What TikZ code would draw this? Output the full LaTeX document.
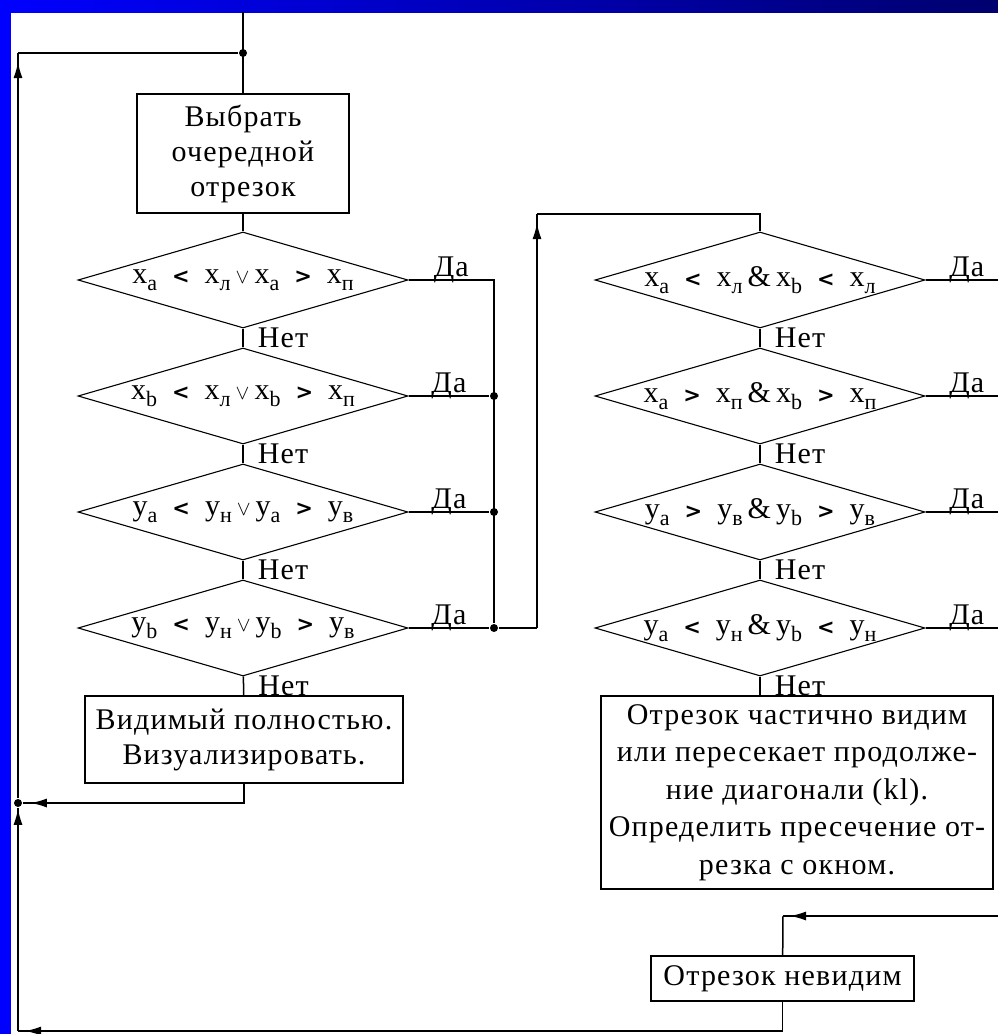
\documentclass[tikz,border=0pt]{standalone}
\usepackage{fontspec}
\setmainfont{Liberation Serif}[LetterSpace=4]
\newfontfamily\chevfont{DejaVu Sans}
\usetikzlibrary{arrows.meta,shapes.geometric}

\definecolor{slidenavy}{RGB}{0,0,110}

\newcommand{\ix}[2]{#1\raisebox{-7pt}{\fontsize{22}{22}\selectfont #2}}
\newcommand{\cl}{\enspace{\chevfont\bfseries\fontsize{21}{21}\selectfont <}\enspace}
\newcommand{\cg}{\enspace{\chevfont\bfseries\fontsize{21}{21}\selectfont >}\enspace}
\newcommand{\vel}{\,{\fontsize{22}{22}\selectfont$\vee$}\,}
\newcommand{\et}{\,\&\,}

\tikzset{
  arr/.style={postaction={draw,-{Latex[length=16pt,width=9pt]},shorten >=#1}},
  dot/.style={circle,fill=black,inner sep=0pt,minimum size=8pt},
  da/.style={anchor=base,yshift=4pt,inner sep=0pt},
  net/.style={anchor=west,xshift=14pt,inner sep=0pt}
}

\begin{document}
\begin{tikzpicture}[x=1pt,y=-1pt,line width=1.5pt,
    font=\fontsize{30}{35}\selectfont]
    % slide frame
    \useasboundingbox (0,0) rectangle (998,1034);
    \fill[white] (0,0) rectangle (998,1034);
    \fill[blue] (0,0) rectangle (11,1034);
    \shade[left color=blue,right color=slidenavy] (0,0) rectangle (998,12);

    \begin{scope}[every node/.style={draw,align=center,inner sep=0pt}]
      \node[minimum width=212pt,minimum height=119pt] (b1) at (243,153.5) {Выбрать\\очередной\\отрезок};
      \node[minimum width=318pt,minimum height=87pt] (b2) at (244,739.5) {Видимый полностью.\\Визуализировать.};
      \node[minimum width=392pt,minimum height=193pt,font=\fontsize{30}{37.5}\selectfont] (b3) at (797,792.5) {Отрезок частично видим\\или пересекает продолже-\\ние диагонали (kl).\\Определить пресечение от-\\резка с окном.};
      \node[minimum width=263pt,minimum height=45pt] (b4) at (782.5,978.5) {Отрезок невидим};
    \end{scope}

    \begin{scope}[every node/.style={diamond,draw,line width=1.1pt,inner sep=0pt,
        shape aspect=3.4,minimum width=330pt,minimum height=96pt}]
      \node (d1) at (243,280) {\ix{x}{a}\cl\ix{x}{л}\vel\ix{x}{a}\cg\ix{x}{п}};
      \node (d2) at (243,396) {\ix{x}{b}\cl\ix{x}{л}\vel\ix{x}{b}\cg\ix{x}{п}};
      \node (d3) at (243,512) {\ix{y}{a}\cl\ix{y}{н}\vel\ix{y}{a}\cg\ix{y}{в}};
      \node (d4) at (243,628) {\ix{y}{b}\cl\ix{y}{н}\vel\ix{y}{b}\cg\ix{y}{в}};
      \node (d5) at (760,280) {\ix{x}{a}\cl\ix{x}{л}\et\ix{x}{b}\cl\ix{x}{л}};
      \node (d6) at (760,396) {\ix{x}{a}\cg\ix{x}{п}\et\ix{x}{b}\cg\ix{x}{п}};
      \node (d7) at (760,512) {\ix{y}{a}\cg\ix{y}{в}\et\ix{y}{b}\cg\ix{y}{в}};
      \node (d8) at (760,628) {\ix{y}{a}\cl\ix{y}{н}\et\ix{y}{b}\cl\ix{y}{н}};
    \end{scope}

    % junctions and corners
    \node[dot] (j0) at (243,53) {};
    \node[dot] (j2) at (494,396) {};
    \node[dot] (j3) at (494,512) {};
    \node[dot] (j4) at (494,628) {};
    \node[dot] (j5) at (18,803) {};
    \coordinate (t0) at (243,12);
    \coordinate (c0) at (18,53);
    \coordinate (j1) at (494,280);
    \coordinate (c1) at (537,628);
    \coordinate (c2) at (537,214);
    \coordinate (c3) at (760,214);
    \coordinate (c5) at (18,1031);
    \coordinate (c6) at (783,916);
    \coordinate (e9) at (998,916);
    \foreach \n/\y in {5/280,6/396,7/512,8/628}
      \coordinate (e\n) at (998,\y);

    % left column
    \draw (t0) -- (b1);
    \draw (b1) -- (d1);
    \draw (d1) -- node[midway,net]{Нет} (d2);
    \draw (d2) -- node[midway,net]{Нет} (d3);
    \draw (d3) -- node[midway,net]{Нет} (d4);
    \draw (d4) -- node[midway,net]{Нет} (b2);
    \draw (d1.east) -- node[da]{Да} (j1) -- (j4);
    \draw (d2.east) -- node[da]{Да} (j2);
    \draw (d3.east) -- node[da]{Да} (j3);
    \draw (d4.east) -- node[da]{Да} (j4);

    % to the right column
    \draw (j4) -- (c1);
    \draw[arr=9pt] (c1) -- (c2);
    \draw (c2) -- (c3) -- (d5);

    % right column
    \draw (d5) -- node[midway,net]{Нет} (d6);
    \draw (d6) -- node[midway,net]{Нет} (d7);
    \draw (d7) -- node[midway,net]{Нет} (d8);
    \draw (d8) -- node[midway,net]{Нет} (d8.south |- b3.north);
    \draw (d5.east) -- node[da,pos=.57]{Да} (e5);
    \draw (d6.east) -- node[da,pos=.57]{Да} (e6);
    \draw (d7.east) -- node[da,pos=.57]{Да} (e7);
    \draw (d8.east) -- node[da,pos=.57]{Да} (e8);

    % loops back
    \draw[arr=8pt] (b2) |- (j5);
    \draw[arr=7pt] (e9) -- (c6);
    \draw (c6) -- (b4);
    \draw[arr=7pt] (b4) |- (c5);
    \draw[arr=1pt] (c5) -- (j5);
    \draw[arr=9pt] (j5) -- (c0);
    \draw (c0) -- (j0);
\end{tikzpicture}
\end{document}
